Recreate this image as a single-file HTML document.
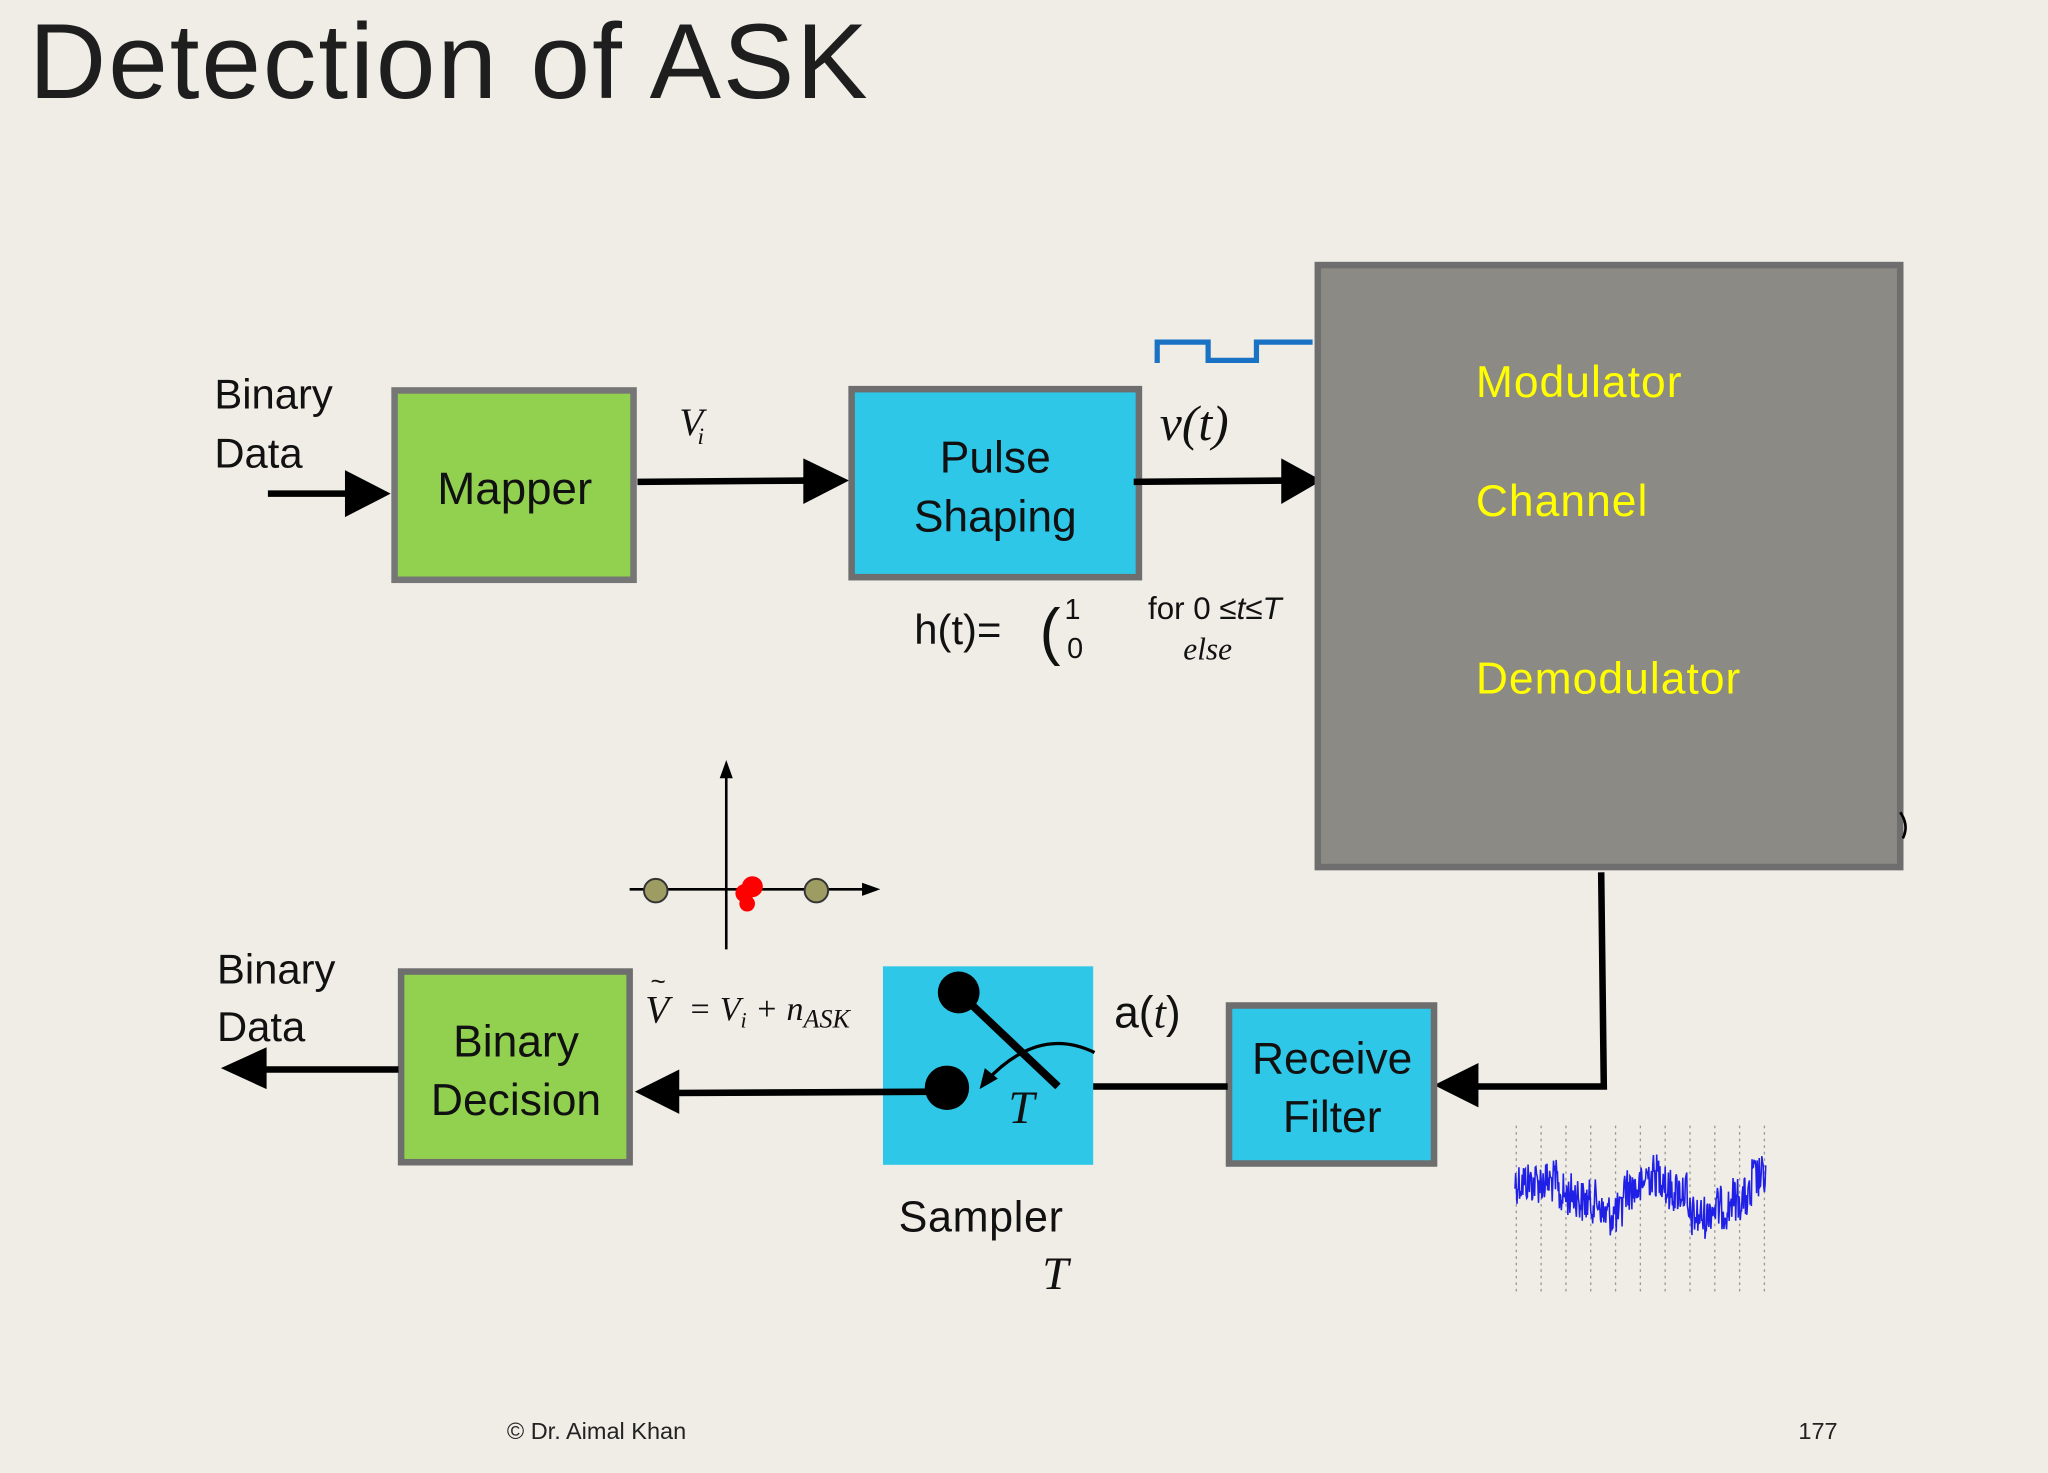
<!DOCTYPE html>
<html><head><meta charset="utf-8"><style>
html,body{margin:0;padding:0;background:#efede6;}
svg{display:block}
text{font-family:"Liberation Sans",sans-serif}
.serif{font-family:"Liberation Serif",serif;font-style:italic}
</style></head><body>
<svg width="2048" height="1473" viewBox="0 0 1568 1128" xmlns="http://www.w3.org/2000/svg">
<rect width="1568" height="1128" fill="#efede6"/>
<text x="22" y="75" font-size="82" letter-spacing="1.5" fill="#1e1e1e">Detection of ASK</text>

<text x="164" y="313" font-size="32" fill="#111">Binary</text>
<text x="164" y="358" font-size="32" fill="#111">Data</text>
<line x1="205" y1="378" x2="268" y2="378" stroke="#000" stroke-width="5"/>
<polygon points="264,360 299,378 264,396" fill="#000"/>

<rect x="302" y="299" width="183" height="145" fill="#92d050" stroke="#767676" stroke-width="5"/>
<text x="394" y="386" font-size="35" text-anchor="middle" fill="#111">Mapper</text>

<text x="520" y="333" font-size="30" class="serif" fill="#111">V</text>
<text x="534" y="340" font-size="18" class="serif" fill="#111">i</text>
<line x1="488" y1="369" x2="620" y2="368" stroke="#000" stroke-width="5"/>
<polygon points="615,351 650,368 615,386" fill="#000"/>

<rect x="652" y="298" width="220" height="144" fill="#2ec7e7" stroke="#6e6e6e" stroke-width="5"/>
<text x="762" y="362" font-size="34" text-anchor="middle" fill="#111">Pulse</text>
<text x="762" y="407" font-size="34" text-anchor="middle" fill="#111">Shaping</text>

<text x="888" y="337" font-size="38" class="serif" fill="#111">v(t)</text>
<line x1="868" y1="369" x2="985" y2="368" stroke="#000" stroke-width="5"/>
<polygon points="981,351 1012,368 981,386" fill="#000"/>

<polyline points="886,278 886,262 925,262 925,276 962,276 962,262 1005,262" fill="none" stroke="#1a72c4" stroke-width="4"/>

<text x="700" y="493" font-size="32" fill="#111">h(t)=</text>
<text x="796" y="500" font-size="48" fill="#111" font-family="Liberation Serif">(</text>
<text x="815" y="474" font-size="22" fill="#111" font-family="Liberation Serif">1</text>
<text x="817" y="504" font-size="22" fill="#111" font-family="Liberation Serif">0</text>
<text x="879" y="474" font-size="24" fill="#111" font-family="Liberation Serif">for 0 ≤<tspan font-style="italic">t</tspan>≤<tspan font-style="italic">T</tspan></text>
<text x="906" y="505" font-size="24" class="serif" fill="#111">else</text>

<rect x="1009" y="203" width="446" height="461" fill="#8c8a84" stroke="#6e6e6e" stroke-width="5"/>
<text x="1130" y="304" font-size="34" letter-spacing="0.8" fill="#ffff00">Modulator</text>
<text x="1130" y="395" font-size="34" letter-spacing="0.8" fill="#ffff00">Channel</text>
<text x="1130" y="531" font-size="34" letter-spacing="0.8" fill="#ffff00">Demodulator</text>
<path d="M1455,622 Q1462,632 1457,642" fill="none" stroke="#000" stroke-width="2"/>

<polyline points="1226,668 1228,832 1130,832" fill="none" stroke="#000" stroke-width="5"/>
<polygon points="1132,814 1098,831 1132,848" fill="#000"/>

<rect x="941" y="770" width="157" height="121" fill="#2ec7e7" stroke="#6e6e6e" stroke-width="5"/>
<text x="1020" y="822" font-size="34" text-anchor="middle" fill="#111">Receive</text>
<text x="1020" y="867" font-size="34" text-anchor="middle" fill="#111">Filter</text>

<text x="853" y="787" font-size="34" fill="#111">a(<tspan font-style="italic" font-family="Liberation Serif">t</tspan>)</text>
<line x1="808" y1="832" x2="940" y2="832" stroke="#000" stroke-width="5"/>

<rect x="676" y="740" width="161" height="152" fill="#2ec7e7"/>
<circle cx="734" cy="760" r="16" fill="#000"/>
<circle cx="725" cy="833" r="17" fill="#000"/>
<line x1="734" y1="760" x2="810" y2="832" stroke="#000" stroke-width="6"/>
<path d="M838,806 Q795,785 755,828" fill="none" stroke="#000" stroke-width="2.5"/>
<polygon points="750,834 754,818 764,826" fill="#000"/>
<text x="772" y="860" font-size="36" class="serif" fill="#111">T</text>

<line x1="720" y1="836" x2="515" y2="837" stroke="#000" stroke-width="5"/>
<polygon points="520,819 486,836 520,853" fill="#000"/>

<text x="688" y="943" font-size="33" letter-spacing="0.5" fill="#111">Sampler</text>
<text x="798" y="987" font-size="36" class="serif" fill="#111">T</text>

<text x="494" y="783" font-size="30" class="serif" fill="#111">V</text>
<text x="498" y="758" font-size="20" fill="#111">~</text>
<text x="527" y="781" font-size="26" class="serif" fill="#111">= V<tspan font-size="17" dy="6">i</tspan><tspan dy="-6"> + n</tspan><tspan font-size="20" dy="6">ASK</tspan></text>

<rect x="307" y="744" width="175" height="146" fill="#92d050" stroke="#6e6e6e" stroke-width="5"/>
<text x="395" y="809" font-size="34" text-anchor="middle" fill="#111">Binary</text>
<text x="395" y="854" font-size="34" text-anchor="middle" fill="#111">Decision</text>

<text x="166" y="753" font-size="32" fill="#111">Binary</text>
<text x="166" y="797" font-size="32" fill="#111">Data</text>
<line x1="305" y1="819" x2="200" y2="819" stroke="#000" stroke-width="5"/>
<polygon points="204,802 169,818 204,834" fill="#000"/>

<line x1="556" y1="727" x2="556" y2="595" stroke="#000" stroke-width="2"/>
<polygon points="551,596 556,582 561,596" fill="#000"/>
<line x1="482" y1="681" x2="662" y2="681" stroke="#000" stroke-width="2"/>
<polygon points="660,676 674,681 660,686" fill="#000"/>
<circle cx="502" cy="682" r="9" fill="#9d9c62" stroke="#333" stroke-width="1.5"/>
<circle cx="625" cy="682" r="9" fill="#9d9c62" stroke="#333" stroke-width="1.5"/>
<circle cx="576" cy="679" r="8" fill="#f00"/>
<circle cx="570" cy="684" r="7" fill="#f00"/>
<circle cx="572" cy="692" r="6" fill="#f00"/>

<g stroke="#999" stroke-width="1" stroke-dasharray="2,3">
<line x1="1161" y1="862" x2="1161" y2="990"/><line x1="1180" y1="862" x2="1180" y2="990"/>
<line x1="1199" y1="862" x2="1199" y2="990"/><line x1="1218" y1="862" x2="1218" y2="990"/>
<line x1="1237" y1="862" x2="1237" y2="990"/><line x1="1256" y1="862" x2="1256" y2="990"/>
<line x1="1275" y1="862" x2="1275" y2="990"/><line x1="1294" y1="862" x2="1294" y2="990"/>
<line x1="1313" y1="862" x2="1313" y2="990"/><line x1="1332" y1="862" x2="1332" y2="990"/>
<line x1="1351" y1="862" x2="1351" y2="990"/>
</g>
<polyline id="noise" fill="none" stroke="#1f1fe6" stroke-width="1.2" points="1160,905 1352,905"/>

<text x="388" y="1102" font-size="18" fill="#222">© Dr. Aimal Khan</text>
<text x="1377" y="1102" font-size="18" fill="#222">177</text>
</svg>
<script>
(function(){
var base=[905,905,915,920,930,910,900,912,932,925,918,902];
var s=12345;function r(){s=(s*1103515245+12345)%2147483648;return s/2147483648;}
var pts=[];
for(var x=1160;x<=1352;x+=0.5){
 var seg=Math.min(11,Math.floor((x-1160)/16.5));
 var b=base[seg];
 var y=b+(r()-0.5)*34;
 pts.push(x.toFixed(1)+","+y.toFixed(1));
}
document.getElementById('noise').setAttribute('points',pts.join(' '));
})();
</script>
</body></html>
